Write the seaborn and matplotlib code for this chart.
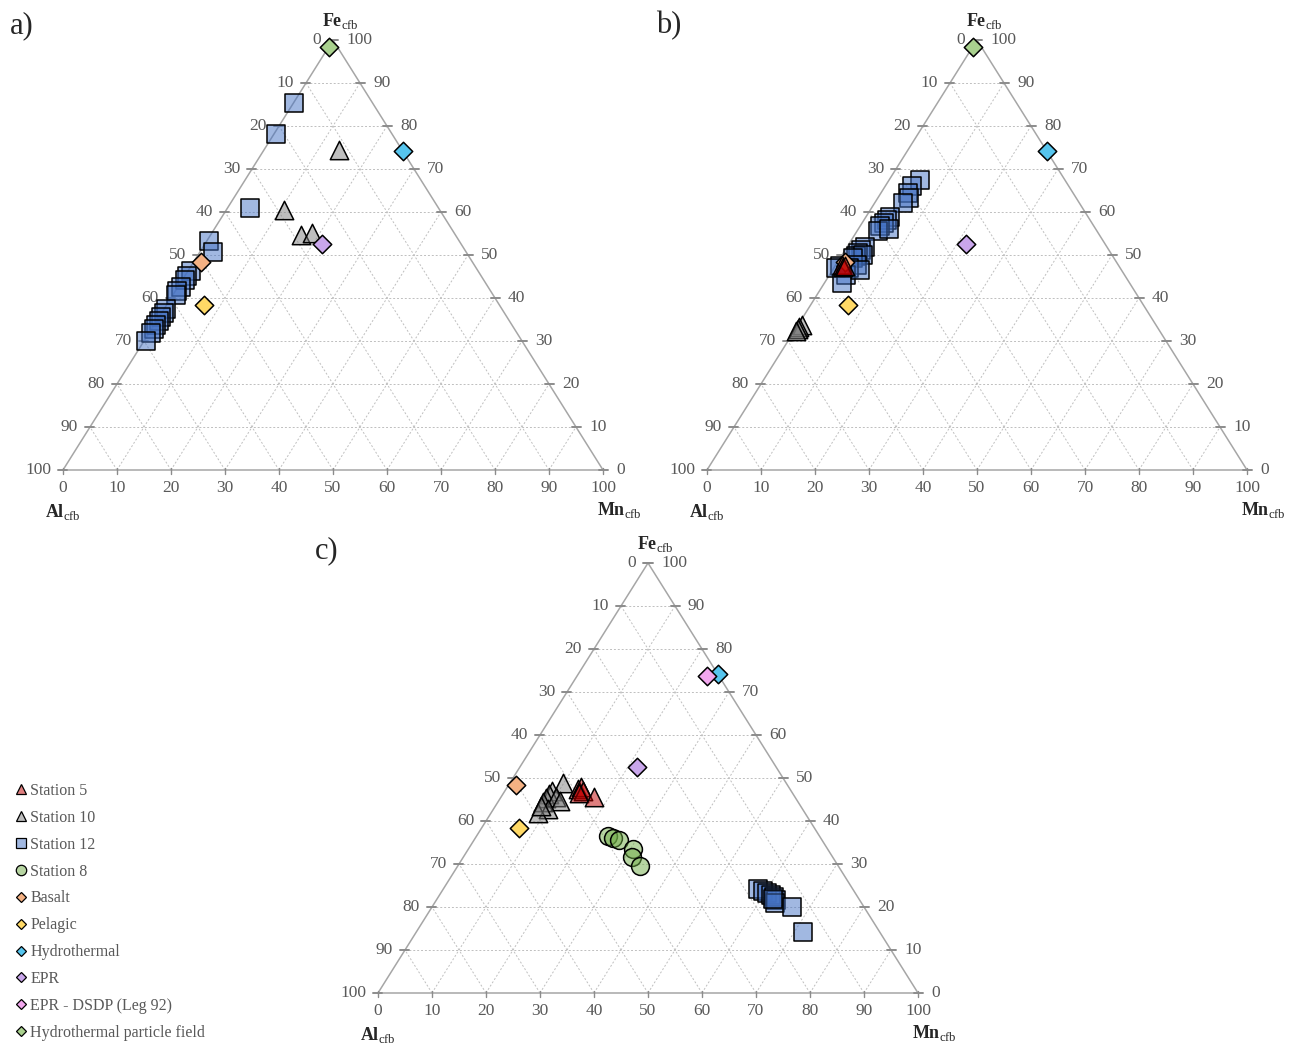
import numpy as np
import pandas as pd
import seaborn as sns
import matplotlib.pyplot as plt
from matplotlib.lines import Line2D
from matplotlib.colors import to_rgba
from matplotlib.transforms import offset_copy

# reference end-members (Fe, Mn in %, Al = rest)
ref_names = ["Basalt", "Pelagic", "Hydrothermal", "EPR",
             "EPR - DSDP (Leg 92)", "Hydrothermal particle field"]
ref_fe = [48.4, 38.4, 74.1, 52.6, 73.7, 98.4]
ref_mn = [1.4, 6.9, 25.9, 21.7, 24.1, 0.1]
ref_panels = {
    "a": ["Basalt", "Pelagic", "Hydrothermal", "EPR", "Hydrothermal particle field"],
    "b": ["Basalt", "Pelagic", "Hydrothermal", "EPR", "Hydrothermal particle field"],
    "c": ["Basalt", "Pelagic", "Hydrothermal", "EPR", "EPR - DSDP (Leg 92)"],
}

# panel a
a_st12_fe = [85.3, 78.1, 60.9, 53.3, 50.7, 46.3, 45.1, 44.2, 42.6, 41.6, 40.7,
             37.4, 36.5, 35.6, 34.7, 33.7, 32.8, 31.9, 30.0]
a_st12_mn = [0.2, 0.4, 4.2, 0.3, 2.4, 0.6, 0.4, 0.5, 0.5, 0.4, 0.6,
             0.3, 0.4, 0.3, 0.4, 0.3, 0.4, 0.3, 0.3]
a_st10_fe = [74.4, 60.5, 54.7, 55.1]
a_st10_mn = [13.9, 10.7, 16.7, 18.6]

# panel b
b_st12_fe = [67.4, 66.0, 64.4, 63.3, 62.1, 58.8, 58.1, 57.4, 56.7, 55.6, 56.0, 51.9,
             51.2, 50.5, 49.8, 50.0, 49.3, 47.7, 47.0, 47.4, 47.0, 45.3, 46.5, 43.5]
b_st12_mn = [5.7, 5.0, 5.0, 5.8, 5.2, 4.5, 4.3, 4.1, 3.7, 3.9, 5.7, 3.3,
             2.9, 2.7, 2.7, 3.9, 2.4, 3.9, 2.8, 0.9, 0.4, 3.1, 5.1, 3.3]
b_st10_fe = [33.8, 33.3, 32.8, 32.3]
b_st10_mn = [0.6, 0.3, 0.5, 0.4]
b_st5_fe = [47.6, 47.2, 47.4]
b_st5_mn = [1.2, 1.6, 1.9]

# panel c
c_st12_fe = [24.2, 23.7, 23.3, 22.8, 22.3, 21.6, 20.9, 21.9, 20.0, 14.2]
c_st12_mn = [58.3, 59.4, 60.4, 61.4, 62.2, 62.9, 63.1, 62.2, 66.7, 71.6]
c_st10_fe = [48.8, 47.0, 46.3, 45.3, 44.4, 45.6, 44.7, 42.8, 41.9, 43.5]
c_st10_mn = [9.8, 8.7, 8.5, 8.4, 8.3, 10.2, 11.4, 10.1, 8.7, 8.4]
c_st5_fe = [47.4, 47.9, 47.0, 46.5, 45.6]
c_st5_mn = [13.3, 13.6, 14.5, 14.0, 17.2]
c_st8_fe = [36.5, 36.0, 35.6, 33.5, 31.6, 29.5]
c_st8_mn = [24.3, 25.5, 26.8, 30.5, 31.2, 33.8]

stations = {
    "a": {"Station 12": (a_st12_fe, a_st12_mn), "Station 10": (a_st10_fe, a_st10_mn)},
    "b": {"Station 12": (b_st12_fe, b_st12_mn), "Station 10": (b_st10_fe, b_st10_mn),
          "Station 5": (b_st5_fe, b_st5_mn)},
    "c": {"Station 12": (c_st12_fe, c_st12_mn), "Station 10": (c_st10_fe, c_st10_mn),
          "Station 8": (c_st8_fe, c_st8_mn), "Station 5": (c_st5_fe, c_st5_mn)},
}

style = {
    "Station 5": ("^", "#C00000", 0.5, 175),
    "Station 10": ("^", "#7F7F7F", 0.5, 175),
    "Station 12": ("s", "#4472C4", 0.5, 175),
    "Station 8": ("o", "#70AD47", 0.5, 165),
    "Basalt": ("D", "#F4B183", 1.0, 88),
    "Pelagic": ("D", "#FFD966", 1.0, 88),
    "Hydrothermal": ("D", "#56C5EE", 1.0, 88),
    "EPR": ("D", "#C9A6EB", 1.0, 88),
    "EPR - DSDP (Leg 92)": ("D", "#F2A7EE", 1.0, 88),
    "Hydrothermal particle field": ("D", "#A9D18E", 1.0, 88),
}
legend_order = ["Station 5", "Station 10", "Station 12", "Station 8"] + ref_names

sns.set_theme(style="white")
plt.rcParams["font.family"] = ["Liberation Serif", "DejaVu Serif"]
plt.rcParams["mathtext.fontset"] = "custom"
plt.rcParams["mathtext.rm"] = "Liberation Serif"
plt.rcParams["mathtext.bf"] = "Liberation Serif:bold"

W, H = 1292, 1043
fig = plt.figure(figsize=(W / 100, H / 100), dpi=100)

# triangle corners in pixels: (left x, base y)
origins = {"a": (63, 470), "b": (707, 470), "c": (378, 993)}
TW, TH = 540, 430
px_x, px_y = 100 / TW, 100 / TH
grid_c = "#BFBFBF"
edge_c = "#A6A6A6"
txt_c = "#595959"


def txt(ax, x, y, s, dx, dy, **kw):
    tr = offset_copy(ax.transData, fig=fig, x=dx, y=dy, units="dots")
    ax.text(x, y, s, transform=tr, clip_on=False, **kw)


def to_xy(fe, mn):
    fe = np.asarray(fe, float)
    mn = np.asarray(mn, float)
    return mn + fe / 2, fe


def draw_frame(ax):
    for v in range(10, 100, 10):
        # constant Fe
        ax.plot([v / 2, 100 - v / 2], [v, v], ls=(0, (2, 2)), lw=0.7, c=grid_c, zorder=1)
        # constant Mn
        ax.plot([v, v + (100 - v) / 2], [0, 100 - v], ls=(0, (2, 2)), lw=0.7, c=grid_c, zorder=1)
        # constant Al
        ax.plot([100 - v, (100 - v) / 2], [0, 100 - v], ls=(0, (2, 2)), lw=0.7, c=grid_c, zorder=1)
    ax.plot([0, 50, 100, 0], [0, 100, 0, 0], c=edge_c, lw=1.1, zorder=2, clip_on=False)
    for v in range(0, 101, 10):
        # left side (Al) ticks and labels
        ax.plot([v / 2 - 5 * px_x, v / 2 + 4 * px_x], [v, v], c="#8C8C8C", lw=1.4, clip_on=False, zorder=2)
        txt(ax, v / 2, v, f"{100 - v}", -12, 0, ha="right", va="center", fontsize=12.5, color=txt_c)
        # right side (Fe) ticks and labels
        ax.plot([100 - v / 2 - 4 * px_x, 100 - v / 2 + 5 * px_x], [v, v], c="#8C8C8C", lw=1.4, clip_on=False, zorder=2)
        txt(ax, 100 - v / 2, v, f"{v}", 13, 0, ha="left", va="center", fontsize=12.5, color=txt_c)
        # bottom (Mn) ticks and labels
        ax.plot([v, v], [-4 * px_y, 2 * px_y], c="#8C8C8C", lw=1.0, clip_on=False, zorder=2)
        txt(ax, v, 0, f"{v}", 0, -18, ha="center", va="center", fontsize=12.5, color=txt_c)
    txt(ax, 50, 100, r"$\mathbf{Fe}_{\mathrm{cfb}}$", 7, 19, ha="center", va="center", fontsize=13)
    txt(ax, 0, 0, r"$\mathbf{Al}_{\mathrm{cfb}}$", 0, -42, ha="center", va="center", fontsize=13)
    txt(ax, 100, 0, r"$\mathbf{Mn}_{\mathrm{cfb}}$", 16, -40, ha="center", va="center", fontsize=13)


def scatter(ax, name, fe, mn, z):
    marker, col, alpha, s = style[name]
    x, y = to_xy(fe, mn)
    sns.scatterplot(x=x, y=y, ax=ax, marker=marker, s=s, color=to_rgba(col, alpha),
                    edgecolor="black", linewidth=1.1, legend=False, clip_on=False, zorder=z)


panel_pos = {"a": (22, 26), "b": (669, 26), "c": (327, 551)}
for key, (x0, y0) in origins.items():
    ax = fig.add_axes([x0 / W, (H - y0) / H, TW / W, TH / H])
    ax.set_xlim(0, 100)
    ax.set_ylim(0, 100)
    ax.axis("off")
    draw_frame(ax)
    st = stations[key]
    for name in ["Station 12", "Station 10", "Station 8"]:
        if name in st:
            scatter(ax, name, *st[name], 3)
    for name in ref_panels[key]:
        i = ref_names.index(name)
        scatter(ax, name, [ref_fe[i]], [ref_mn[i]], 4)
    if "Station 5" in st:
        scatter(ax, "Station 5", *st["Station 5"], 5)
    px, py = panel_pos[key]
    fig.text(px / W, 1 - py / H, f"{key})", ha="center", va="center", fontsize=22)

handles = []
for name in legend_order:
    marker, col, alpha, s = style[name]
    ms = 5.5 if marker == "D" else 7.5
    handles.append(Line2D([], [], ls="none", marker=marker, markersize=ms,
                          markerfacecolor=to_rgba(col, alpha),
                          markeredgecolor="black", markeredgewidth=0.9))
fig.legend(handles, legend_order, loc="upper left", bbox_to_anchor=(15 / W, 1 - 783 / H),
           frameon=False, fontsize=11.5, handlelength=0.7, handletextpad=0.25,
           labelspacing=0.68, borderpad=0, borderaxespad=0, labelcolor=txt_c)

fig.savefig("out.png", dpi=100)
